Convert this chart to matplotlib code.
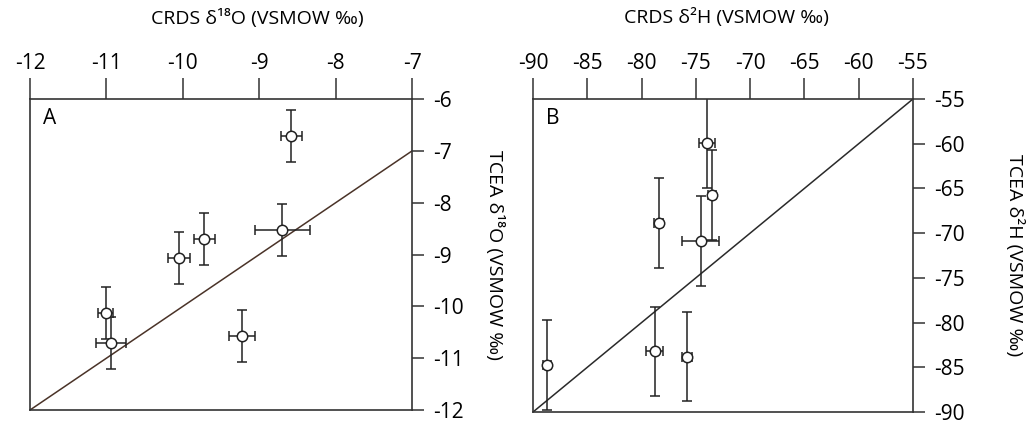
import matplotlib
matplotlib.use("Agg")
import matplotlib.pyplot as plt

plt.rcParams["font.family"] = ["Open Sans", "DejaVu Sans"]
plt.rcParams["axes.unicode_minus"] = False

# Panel A: delta 18O
o_crds = [-8.58, -8.70, -9.72, -10.05, -11.01, -10.94, -9.22]
o_tcea = [-6.71, -8.52, -8.70, -9.07, -10.13, -10.70, -10.57]
o_crds_err = [0.14, 0.36, 0.14, 0.14, 0.10, 0.19, 0.17]
o_tcea_err = [0.50, 0.50, 0.50, 0.50, 0.50, 0.50, 0.50]
o_ticks = [-12, -11, -10, -9, -8, -7]
o_yticks = [-12, -11, -10, -9, -8, -7, -6]

# Panel B: delta 2H
h_crds = [-73.97, -73.51, -78.42, -74.56, -78.79, -75.85, -88.71]
h_tcea = [-59.91, -65.76, -68.85, -70.90, -83.22, -83.82, -84.75]
h_crds_err = [0.77, 0.40, 0.40, 1.70, 0.77, 0.46, 0.40]
h_tcea_err = [5.0, 5.0, 5.0, 5.0, 5.0, 5.0, 5.0]
h_ticks = [-90, -85, -80, -75, -70, -65, -60, -55]


def draw_panel(ax, x, y, xerr, yerr, lims, ylims, xticks, yticks,
               letter, xlabel, ylabel, line_color, xlab_x, ylab_x):
    """Draws one comparison panel"""
    ax.plot(lims, lims, color=line_color, lw=1.1, zorder=1)
    ax.errorbar(x, y, xerr=xerr, yerr=yerr, fmt="o", ms=7.5,
                mfc="white", mec="#222222", mew=1.1, ecolor="#222222",
                elinewidth=1.1, capsize=3.5, capthick=1.1, zorder=2)
    ax.set_xlim(lims)
    ax.set_ylim(ylims)
    ax.set_xticks(xticks)
    ax.set_yticks(yticks)
    ax.xaxis.tick_top()
    ax.yaxis.tick_right()
    ax.tick_params(axis="x", direction="out", length=15, width=1.1,
                   pad=3, labelsize=15, colors="#333333",
                   labelcolor="black")
    ax.tick_params(axis="y", direction="out", length=8.5, width=1.1,
                   pad=7, labelsize=15, colors="#333333",
                   labelcolor="black")
    for side in ax.spines.values():
        side.set_linewidth(1.2)
        side.set_color("#333333")
    ax.text(xlab_x, 1.26, xlabel, transform=ax.transAxes, fontsize=14,
            ha="center", va="center")
    ax.text(ylab_x, 0.5, ylabel, transform=ax.transAxes, fontsize=14,
            rotation=270, ha="center", va="center")
    ax.text(0.034, 0.97, letter, transform=ax.transAxes, fontsize=15,
            va="top", ha="left")


fig = plt.figure(figsize=(10.28, 4.23), dpi=100)
ax_a = fig.add_axes([0.0292, 0.0307, 0.3716, 0.735])
ax_b = fig.add_axes([0.5185, 0.0260, 0.3696, 0.740])

draw_panel(ax_a, o_crds, o_tcea, o_crds_err, o_tcea_err,
           [-12, -7], [-12, -6], o_ticks, o_yticks, "A",
           "CRDS δ¹⁸O (VSMOW ‰)", "TCEA δ¹⁸O (VSMOW ‰)", "#4a3328",
           0.594, 1.217)
draw_panel(ax_b, h_crds, h_tcea, h_crds_err, h_tcea_err,
           [-90, -55], [-90, -55], h_ticks, h_ticks, "B",
           "CRDS δ²H (VSMOW ‰)", "TCEA δ²H (VSMOW ‰)", "#2a2a2a",
           0.51, 1.268)

fig.savefig("out.png", dpi=100)
